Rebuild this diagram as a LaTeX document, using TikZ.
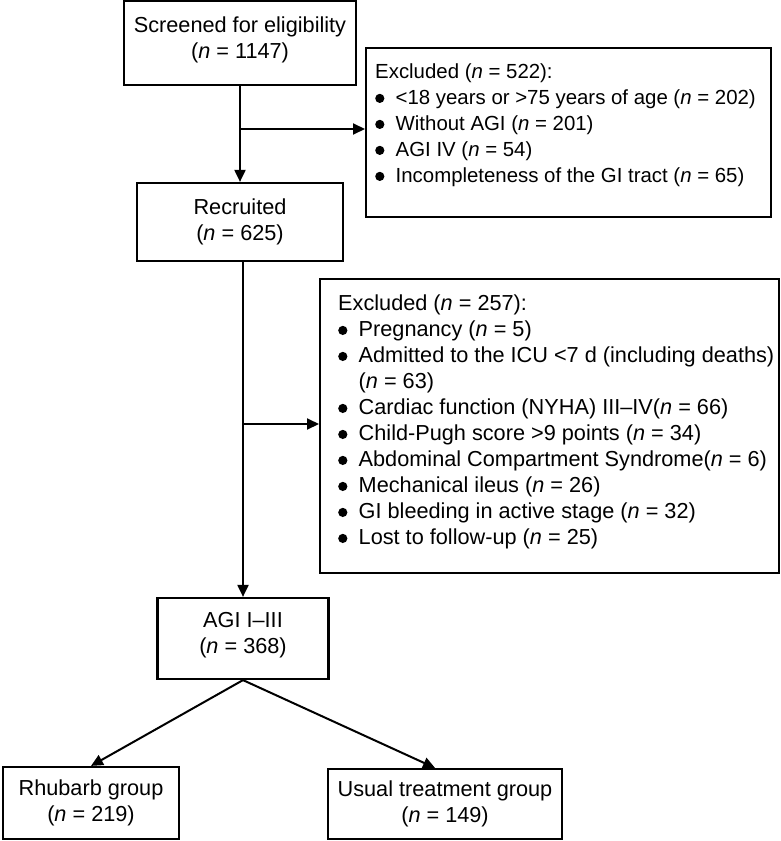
\documentclass[tikz,border=0pt]{standalone}
\usepackage{fontspec}
\setmainfont{Liberation Sans}
\usetikzlibrary{arrows.meta,calc}
\newcommand\nn{\textit{n}}
\newcommand\lowdepth{\rule[-11.6bp]{0pt}{0pt}}
\newcommand\bl{\makebox[20.5bp][l]{\tikz[baseline=0pt,x=1bp,y=1bp]{\path (0,0) (9,0); \fill (4.6,6) circle[radius=4.6bp];}}}
\begin{document}
\begin{tikzpicture}[x=1bp,y=-1bp,
  font=\fontsize{21.7bp}{26bp}\selectfont,
  box/.style={draw, line width=2.2bp, align=center, inner sep=0pt},
  exbox/.style={draw, line width=2.2bp, inner sep=0pt, anchor=north west},
  extext/.style={anchor=north west, align=left, inner sep=0pt},
  conn/.style={line width=2bp, -{Triangle[length=12bp,width=11bp]}}]
\useasboundingbox (0,0) rectangle (781,841);

\node[box, minimum width=232bp, minimum height=84bp] (b1) at (240,43)
  {Screened for eligibility\\(\nn{} = 1147)\lowdepth};
\node[box, minimum width=206bp, minimum height=78bp] (b2) at (240,222)
  {Recruited\\(\nn{} = 625)};
\node[box, minimum width=171bp, minimum height=81bp] (b3) at (243,638.5)
  {AGI I–III\\(\nn{} = 368)\lowdepth};
\node[box, minimum width=176bp, minimum height=72bp] (b4) at (91,803)
  {Rhubarb group\\(\nn{} = 219)};
\node[box, minimum width=234bp, minimum height=70bp] (b5) at (445,804)
  {Usual treatment group\\(\nn{} = 149)};

\node[exbox, minimum width=405bp, minimum height=169bp] (ex1) at (365,47) {};
\node[extext, font=\fontsize{20.4bp}{26bp}\selectfont] (ex1t) at (375,63.4)
  {Excluded (\nn{} = 522):\\
   \bl<18 years or >75 years of age (\nn{} = 202)\\
   \bl Without AGI (\nn{} = 201)\\
   \bl AGI IV (\nn{} = 54)\\
   \bl Incompleteness of the GI tract (\nn{} = 65)};

\node[exbox, minimum width=459bp, minimum height=294bp] (ex2) at (319,278) {};
\node[extext] (ex2t) at (338,294.5)
  {Excluded (\nn{} = 257):\\
   \bl Pregnancy (\nn{} = 5)\\
   \bl Admitted to the ICU <7 d (including deaths)\\
   \hspace*{20.5bp}(\nn{} = 63)\\
   \bl Cardiac function (NYHA) III–IV(\nn{} = 66)\\
   \bl Child-Pugh score >9 points (\nn{} = 34)\\
   \bl Abdominal Compartment Syndrome(\nn{} = 6)\\
   \bl Mechanical ileus (\nn{} = 26)\\
   \bl GI bleeding in active stage (\nn{} = 32)\\
   \bl Lost to follow-up (\nn{} = 25)};

\draw[conn] (b1) -- (b2);
\coordinate (j1) at (240,129);
\draw[conn] (j1) -- (j1 -| ex1.west);
\draw[conn] (b2.south -| b3.north) -- (b3.north);
\coordinate (j2) at (243,424);
\draw[conn] (j2) -- (j2 -| ex2.west);
\draw[conn] (b3.south) -- (b4.north);
\draw[conn] (b3.south) -- ($(b5.north)+(-10,0)$);
\end{tikzpicture}
\end{document}
